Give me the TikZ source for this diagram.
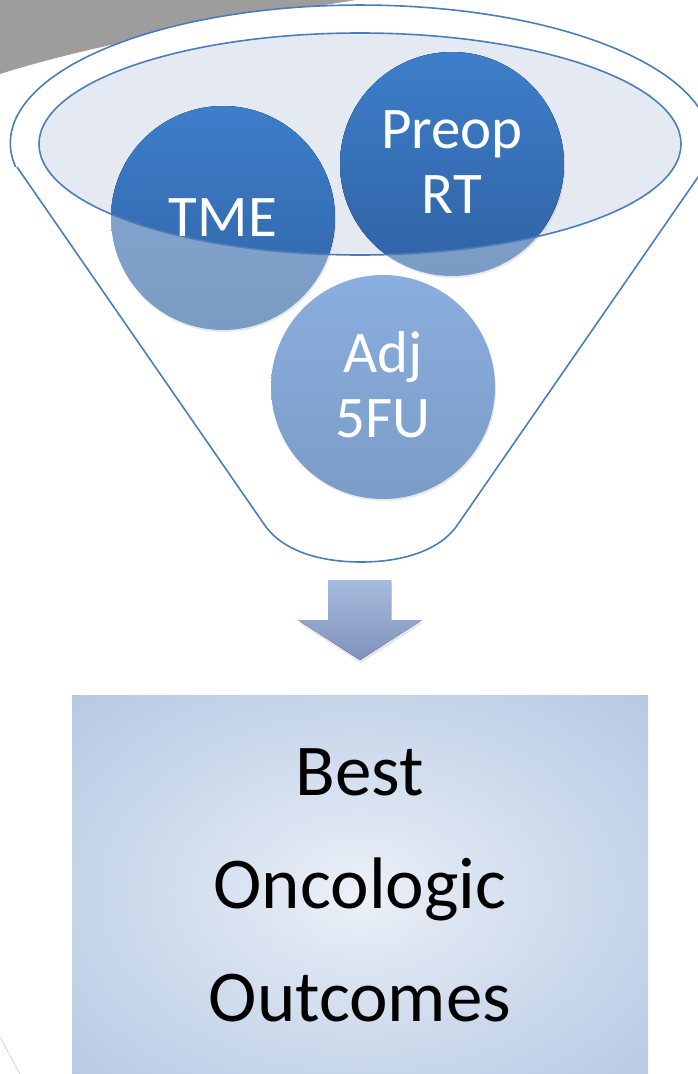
\documentclass[tikz,border=0pt]{standalone}
\usepackage{fontspec}
\setmainfont{Carlito}
\usetikzlibrary{shadows}
\definecolor{funnelblue}{HTML}{4A7EBB}
\definecolor{rimfill}{HTML}{E4E9F2}
\definecolor{balltop}{HTML}{3D7ECA}
\definecolor{ballbot}{HTML}{3062A4}
\definecolor{washtop}{HTML}{88AAD4}
\definecolor{washbot}{HTML}{7A9BC4}
\definecolor{adjtop}{HTML}{8AAEE0}
\definecolor{adjbot}{HTML}{7B9CC6}
\definecolor{arrowtop}{HTML}{A7BBDE}
\definecolor{arrowbot}{HTML}{7F92BA}
\definecolor{boxin}{HTML}{EDF1F8}
\definecolor{boxout}{HTML}{AFC4E1}
\definecolor{cornergray}{HTML}{9D9D9D}
\pgfdeclareradialshading{boxglow}{\pgfpoint{0bp}{0bp}}{color(0bp)=(boxin); color(10bp)=(boxin!70!boxout); color(40bp)=(boxout); color(50bp)=(boxout)}
\tikzset{
  rim/.style={draw=funnelblue, line width=1.6pt},
  ball/.style={circle, minimum size=224pt, inner sep=0pt, top color=washtop, bottom color=washbot,
    drop shadow={opacity=0.18, shadow xshift=1pt, shadow yshift=-2pt}},
  adjball/.style={ball, top color=adjtop, bottom color=adjbot},
  balltext/.style={text=white, align=center, font=\fontsize{59}{65}\selectfont},
}

\begin{document}
\begin{tikzpicture}[x=1pt,y=-1pt]
		\useasboundingbox (0,0) rectangle (698,1074);
		\clip (0,0) rectangle (698,1074);
		\def\rimellipse{(360,144) ellipse [x radius=321, y radius=111]}
		\fill[cornergray] (0,0) -- (356,0) .. controls (260,15) and (100,42) .. (0,74) -- cycle;
		% funnel body
		\draw[rim, fill=white] (17,167) -- (266,527) .. controls (285,552) and (322,562) .. (361,562)
			.. controls (400,562) and (437,552) .. (456,527) -- (705,167)
			arc[start angle=10, end angle=-190, x radius=350, y radius=138];
		\fill[rimfill] \rimellipse;
		% balls
		\node[ball] (tme) at (223,218) {};
		\node[ball] (preop) at (452,164) {};
		\node[adjball] (adj) at (383,387) {};
		\begin{scope}
			\clip \rimellipse;
			\fill[top color=balltop, bottom color=ballbot] (tme.center) circle (112);
			\fill[top color=balltop, bottom color=ballbot] (preop.center) circle (112);
		\end{scope}
		\draw[rim] \rimellipse;
		\node[balltext] (tmelabel) at (tme) {TME};
		\node[balltext] (preoplabel) at (452,162) {Preop\\RT};
		\node[balltext] (adjlabel) at (383,385) {Adj\\5FU};
		% arrow
		\fill[top color=arrowtop, bottom color=arrowbot, drop shadow={opacity=0.2, shadow xshift=1pt, shadow yshift=-3pt}]
			(328,580) -- (391,580) -- (391,620) -- (422,620) -- (360,660) -- (298,620) -- (328,620) -- cycle;
		% result box
		\fill[shading=boxglow] (72,695) rectangle (648,1090);
		\node[align=center, font=\fontsize{73}{113}\selectfont] (outcome) at (360,885) {Best\\Oncologic\\Outcomes};
		\draw[cornergray!70] (0,1037) -- (20,1074);
\end{tikzpicture}
\end{document}
